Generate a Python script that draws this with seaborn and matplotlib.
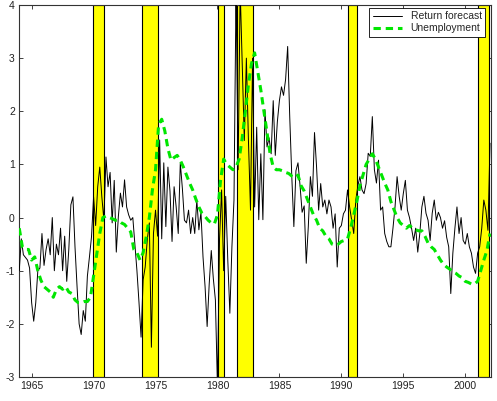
import numpy as np
import pandas as pd
import seaborn as sns
import matplotlib
matplotlib.use("Agg")
import matplotlib.pyplot as plt

# return forecast, sampled every two months from 1964.0
ret_start = 1964.0
ret_step = 1 / 6
return_forecast = [
    -1.0, -0.4, -0.7, -0.75, -0.8, -0.95,      # 1964
    -1.6, -1.95, -1.6, -1.0, -0.95, -0.3,      # 1965
    -0.9, -0.6, -0.4, -0.7, 0.0, -1.0,         # 1966
    -0.5, -0.7, -0.2, -1.0, -0.35, -1.2,       # 1967
    -0.6, 0.24, 0.39, -0.55, -1.3, -2.0,       # 1968
    -2.2, -1.75, -1.95, -1.1, -0.74, -0.36,    # 1969
    0.39, -0.15, 0.58, 0.95, 0.39, -0.05,      # 1970
    1.14, 0.58, 0.85, -0.1, 0.7, -0.65,        # 1971
    0.02, 0.46, 0.2, 0.71, 0.2, 0.05,          # 1972
    -0.05, 0.0, -0.5, -1.0, -1.6, -2.25,       # 1973
    -1.17, -0.93, -0.42, -0.1, -2.44, -0.3,    # 1974
    0.14, -0.35, 1.46, -0.4, 1.03, -0.17,      # 1975
    0.95, 0.5, -0.45, 0.58, 0.2, -0.3,         # 1976
    1.03, 0.55, -0.05, -0.1, 0.14, -0.3,       # 1977
    0.0, -0.3, 0.33, -0.23, 0.1, -0.74,        # 1978
    -1.3, -2.05, -1.25, -0.62, -1.15, -1.55,   # 1979
    -3.2, -0.4, 0.52, -1.0, 0.4, -0.8,         # 1980
    -1.8, -0.55, 0.33, 4.3, 0.9, 4.3,          # 1981
    2.9, 1.45, 3.0, 1.45, 0.14, 3.0,           # 1982
    0.2, 1.7, -0.04, 1.2, -0.04, 2.03,         # 1983
    1.33, 1.5, 1.2, 2.2, 1.17, 1.8,            # 1984
    2.2, 2.46, 2.3, 2.6, 3.22, 1.9,            # 1985
    0.77, -0.17, 0.88, 1.03, 0.6, 0.1,         # 1986
    0.22, -0.86, -0.17, 0.77, 0.4, 1.6,        # 1987
    0.95, 0.14, 0.64, 0.2, 0.33, 0.07,         # 1988
    0.33, 0.2, -0.2, 0.07, -0.93, -0.2,        # 1989
    -0.15, 0.07, 0.14, 0.52, 0.2, -0.05,       # 1990
    -0.3, 0.33, 0.6, 0.77, 0.52, 0.45,         # 1991
    0.64, 1.21, 1.15, 1.9, 0.9, 0.65,          # 1992
    1.08, 0.14, 0.2, -0.3, -0.45, -0.55,       # 1993
    -0.55, -0.2, 0.2, 0.77, 0.4, 0.14,         # 1994
    0.45, 0.7, 0.14, 0.0, -0.2, -0.43,         # 1995
    -0.2, -0.65, -0.3, 0.2, 0.4, 0.08,         # 1996
    -0.05, -0.43, 0.08, 0.33, -0.05, 0.1,      # 1997
    0.0, -0.2, -0.06, -0.37, -0.55, -1.43,     # 1998
    -0.67, -0.2, 0.2, -0.3, 0.0, -0.43,        # 1999
    -0.5, -0.3, -0.55, -0.67, -0.93, -1.05,    # 2000
    -0.67, -0.55, -0.2, 0.33, 0.14, -0.24,     # 2001
    1.4,                                       # 2002
]

# unemployment (standardised), quarterly from 1964.0
unemp_start = 1964.0
unemp_step = 0.25
unemployment = [
    -0.2, -0.55, -0.6, -0.6,
    -0.8, -0.74, -1.0, -1.18,
    -1.3, -1.35, -1.4, -1.5,
    -1.35, -1.3, -1.35, -1.3,
    -1.4, -1.43, -1.55, -1.6,
    -1.6, -1.58, -1.58, -1.5,
    -1.1, -0.7, -0.3, 0.0,
    0.03, 0.0, -0.02, -0.05,
    -0.05, -0.1, -0.13, -0.2,
    -0.27, -0.6, -0.66, -0.8,
    -0.66, -0.36, 0.0, 0.52,
    0.9, 1.75, 1.85, 1.63,
    1.3, 1.08, 1.13, 1.17,
    1.08, 0.95, 0.8, 0.65,
    0.52, 0.35, 0.2, 0.08,
    0.02, -0.05, -0.1, -0.12,
    0.05, 0.7, 1.1, 1.0,
    0.95, 0.9, 0.95, 1.1,
    1.5, 2.0, 2.5, 2.9,
    3.1, 2.75, 2.4, 2.0,
    1.6, 1.2, 0.95, 0.9,
    0.9, 0.88, 0.85, 0.83,
    0.78, 0.75, 0.8, 0.6,
    0.5, 0.35, 0.2, 0.05,
    -0.05, -0.2, -0.25, -0.35,
    -0.4, -0.5, -0.52, -0.5,
    -0.45, -0.43, -0.4, -0.2,
    0.05, 0.3, 0.6, 0.8,
    1.0, 1.1, 1.2, 1.1,
    0.95, 0.8, 0.65, 0.52,
    0.3, 0.15, 0.0, -0.1,
    -0.15, -0.2, -0.15, -0.2,
    -0.23, -0.25, -0.25, -0.35,
    -0.48, -0.55, -0.6, -0.7,
    -0.8, -0.88, -0.93, -0.97,
    -1.02, -1.05, -1.1, -1.13,
    -1.2, -1.22, -1.25, -1.25,
    -1.2, -1.0, -0.8, -0.62,
    -0.3,
]

# recession bands (start, end)
recessions = [(1969.95, 1970.85), (1973.93, 1975.22), (1980.06, 1980.55),
              (1981.6, 1982.89), (1990.56, 1991.23), (2001.0, 2001.94)]

x_ticks = [1965, 1970, 1975, 1980, 1985, 1990, 1995, 2000]
y_ticks = [-3, -2, -1, 0, 1, 2, 3, 4]

ret_df = pd.DataFrame({
    "year": ret_start + ret_step * np.arange(len(return_forecast)),
    "value": return_forecast,
})
unemp_df = pd.DataFrame({
    "year": unemp_start + unemp_step * np.arange(len(unemployment)),
    "value": unemployment,
})

sns.set_style("ticks")
plt.rcParams["font.family"] = ["Liberation Sans", "DejaVu Sans"]
plt.rcParams["axes.unicode_minus"] = False

fig = plt.figure(figsize=(4.97, 4.01), dpi=100)
ax = fig.add_axes([19 / 497, 24 / 401, 472 / 497, 372 / 401])

for a, b in recessions:
    ax.axvspan(a, b, facecolor="#ffff00", edgecolor="black", linewidth=0.8, zorder=1)

sns.lineplot(data=ret_df, x="year", y="value", ax=ax, color="black",
             linewidth=0.7, label="Return forecast", zorder=3)
sns.lineplot(data=unemp_df, x="year", y="value", ax=ax, color="#00e600",
             linewidth=2.2, linestyle=(0, (2.4, 1.6)), label="Unemployment", zorder=4)

ax.set_xlim(1963.98, 2002.08)
ax.set_ylim(-3, 4)
ax.set_xticks(x_ticks)
ax.set_yticks(y_ticks)
ax.set_xlabel("")
ax.set_ylabel("")
ax.tick_params(direction="in", top=True, right=True, length=3, width=0.6,
               labelsize=7.5, colors="#222222", pad=3)
for s in ax.spines.values():
    s.set_linewidth(0.8)
    s.set_color("#333333")

leg = ax.legend(loc="upper right", bbox_to_anchor=(0.988, 0.993), borderaxespad=0,
                fontsize=7.5, fancybox=False, framealpha=1, edgecolor="black",
                handlelength=2.8, borderpad=0.35, labelspacing=0.2)
leg.get_frame().set_linewidth(0.6)

fig.savefig("out.png", dpi=100)
